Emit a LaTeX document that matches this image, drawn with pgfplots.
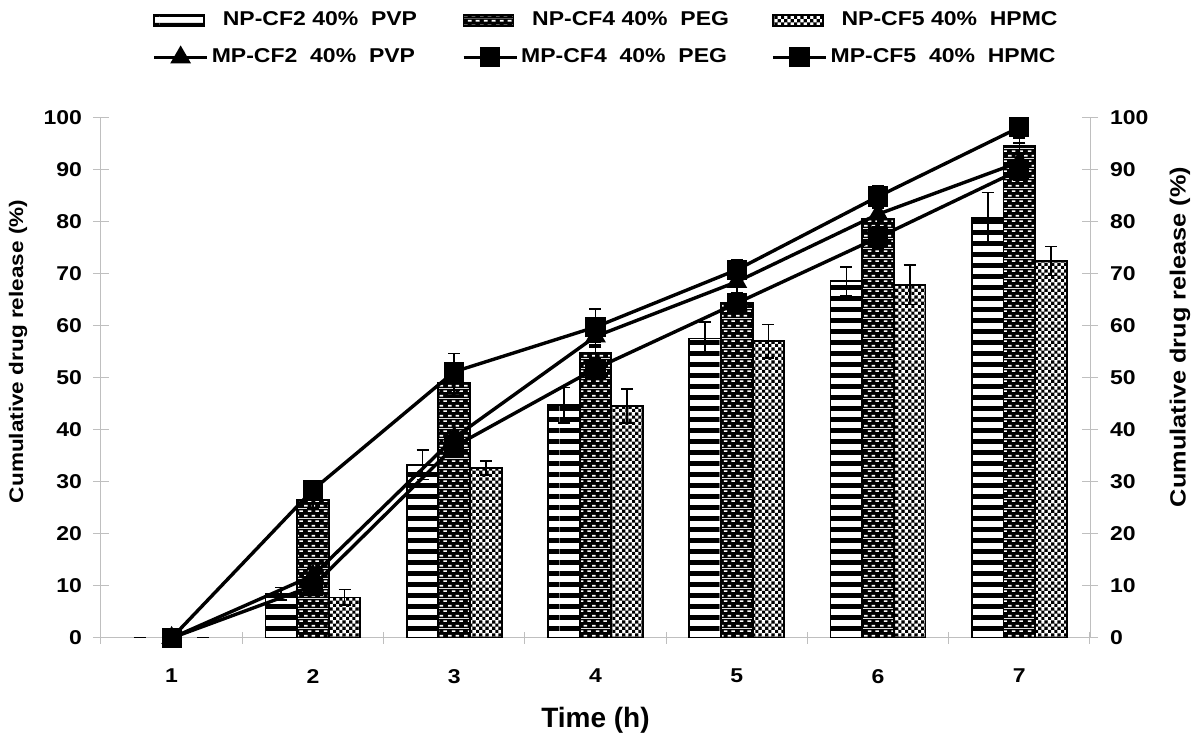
\documentclass[border=0pt]{standalone}
\usepackage{fontspec}
\setmainfont{Liberation Sans}[FakeStretch=1.15]
\newfontfamily\xlfont{Liberation Sans}
\usepackage{pgfplots}
\usepackage{pgfplotstable}
\pgfplotsset{compat=1.18}
\usetikzlibrary{patterns}

\pgfdeclarepatterninherentlycolored{myhstripes}
{\pgfpointorigin}{\pgfqpoint{40pt}{5.3pt}}{\pgfqpoint{40pt}{5.3pt}}
{
 \pgfsetfillcolor{white}
 \pgfpathrectangle{\pgfpointorigin}{\pgfqpoint{40pt}{5.3pt}}
 \pgfusepath{fill}
 \pgfsetfillcolor{black}
 \pgfpathrectangle{\pgfpointorigin}{\pgfqpoint{40pt}{2.5pt}}
 \pgfusepath{fill}
}
\pgfdeclarepatterninherentlycolored{mybricks}
{\pgfpointorigin}{\pgfqpoint{8pt}{5pt}}{\pgfqpoint{8pt}{5pt}}
{
 \pgfsetfillcolor{black}
 \pgfpathrectangle{\pgfpointorigin}{\pgfqpoint{8pt}{5pt}}
 \pgfusepath{fill}
 \pgfsetfillcolor{white}
 \pgfpathrectangle{\pgfqpoint{0.05pt}{0.8pt}}{\pgfqpoint{1.9pt}{0.95pt}}
 \pgfpathrectangle{\pgfqpoint{4.05pt}{0.8pt}}{\pgfqpoint{1.9pt}{0.95pt}}
 \pgfpathrectangle{\pgfqpoint{2.05pt}{3.3pt}}{\pgfqpoint{1.9pt}{0.95pt}}
 \pgfpathrectangle{\pgfqpoint{6.05pt}{3.3pt}}{\pgfqpoint{1.9pt}{0.95pt}}
 \pgfusepath{fill}
}
\pgfdeclarepatterninherentlycolored{mychecker}
{\pgfpointorigin}{\pgfqpoint{6.4pt}{6.4pt}}{\pgfqpoint{6.4pt}{6.4pt}}
{
 \pgfsetfillcolor{white}
 \pgfpathrectangle{\pgfpointorigin}{\pgfqpoint{6.4pt}{6.4pt}}
 \pgfusepath{fill}
 \pgfsetfillcolor{black}
 \pgfpathrectangle{\pgfqpoint{0pt}{0pt}}{\pgfqpoint{1.6pt}{1.6pt}}
 \pgfpathrectangle{\pgfqpoint{3.2pt}{0pt}}{\pgfqpoint{1.6pt}{1.6pt}}
 \pgfpathrectangle{\pgfqpoint{1.6pt}{1.6pt}}{\pgfqpoint{1.6pt}{1.6pt}}
 \pgfpathrectangle{\pgfqpoint{4.8pt}{1.6pt}}{\pgfqpoint{1.6pt}{1.6pt}}
 \pgfpathrectangle{\pgfqpoint{0pt}{3.2pt}}{\pgfqpoint{1.6pt}{1.6pt}}
 \pgfpathrectangle{\pgfqpoint{3.2pt}{3.2pt}}{\pgfqpoint{1.6pt}{1.6pt}}
 \pgfpathrectangle{\pgfqpoint{1.6pt}{4.8pt}}{\pgfqpoint{1.6pt}{1.6pt}}
 \pgfpathrectangle{\pgfqpoint{4.8pt}{4.8pt}}{\pgfqpoint{1.6pt}{1.6pt}}
 \pgfusepath{fill}
}

\pgfplotstableread{
t  a    ea   b    eb   c    ec   d    ed   e    ee   f    ef
1  0    0    0    0    0    0    0    0    0    0    0    0
2  8.5  1.2  26.5 1.5  7.8  1.5  12   1.5  28.5 1.5  10   1.5
3  33.3 2.8  49   2.5  32.7 1.3  38.5 2    51.2 3.5  36.8 2
4  44.8 3.4  54.8 2    44.6 3.3  58   2    59.8 3.5  51.8 2
5  57.6 3.2  64.4 2    57.1 3.2  68.5 3    70.8 2    64.4 2
6  68.6 2.8  80.6 2    67.9 3.8  81.5 3    84.9 2    77   2
7  80.8 4.9  94.6 1.5  72.5 2.8  91.5 3    98.2 3    90   2
}\data

\pgfplotsset{
  barstyle/.style={ybar, bar width=0.224, draw=black, line width=0.9pt,
    restrict x to domain=1.5:7.5,
    legend image code/.code={\draw[line width=0.8pt,##1] (0pt,-2.8pt) rectangle (25pt,2.8pt);}},
  errstyle/.style={draw=none, mark=none, forget plot,
    error bars/y dir=both, error bars/y explicit,
    error bars/error bar style={draw=black, solid, line width=0.8pt},
    error bars/error mark options={rotate=90, draw=black, solid, mark size=3pt, line width=0.8pt}},
  linestyle/.style={black, line width=1.7pt, mark options={solid, fill=black},
    error bars/y dir=both, error bars/y explicit,
    error bars/error bar style={black, line width=0.8pt},
    error bars/error mark options={rotate=90, black, mark size=3pt, line width=0.8pt},
    legend image code/.code={\draw[##1, mark repeat=2, mark phase=2] plot coordinates {(0pt,0pt) (13.25pt,0pt) (26.5pt,0pt)};}},
}

\begin{document}
\begin{tikzpicture}
\useasboundingbox (-50.5pt,-55pt) rectangle (549.5pt,319pt);
\begin{axis}[
  at={(0,0)}, anchor=south west,
  scale only axis, width=494.5pt, height=260pt,
  xmin=0.5, xmax=7.5, ymin=0, ymax=100,
  axis x line*=bottom, axis y line*=left,
  axis line style={gray!50, line width=0.5pt},
  xtick={1,...,7}, minor xtick={0.5,1.5,...,7.5},
  major x tick style={draw=none},
  minor x tick style={gray!50, line width=0.5pt},
  ytick={0,10,...,100},
  major y tick style={gray!50, line width=0.5pt},
  tick align=center, major tick length=8pt, minor tick length=6pt,
  /pgf/number format/assume math mode=true,
  ticklabel style={font=\bfseries\fontsize{10}{12}\selectfont},
  xticklabel style={yshift=-8pt},
  yticklabel style={xshift=-2pt},
  xlabel={Time (h)},
  xlabel style={at={(axis description cs:0.5,0)}, anchor=center, yshift=-41pt, font=\xlfont\bfseries\fontsize{14}{16}\selectfont},
  ylabel={Cumulative drug release (\%)},
  ylabel style={at={(axis description cs:-0.0839,0.551)}, anchor=center, rotate=0, font=\bfseries\fontsize{9.8}{12}\selectfont},
  legend columns=3,
  legend cell align=left,
  legend style={draw=none, fill=none, inner sep=0pt, at={(axis description cs:0.0516,1)}, anchor=north west, yshift=53.75pt,
    row sep=9pt, column sep=0pt,
    nodes={inner sep=0pt, text height=7.5pt, text depth=2pt, font=\bfseries\fontsize{10}{12}\selectfont}},
]
\addplot[barstyle, bar shift=-0.224, pattern=myhstripes] table[x=t, y=a]{\data};
\addlegendentry{\makebox[126.5pt][l]{\hspace{7pt}NP-CF2 40\%\ \ PVP}}
\addplot[barstyle, bar shift=0, pattern=mybricks] table[x=t, y=b]{\data};
\addlegendentry{\makebox[126.5pt][l]{\hspace{7pt}NP-CF4 40\%\ \ PEG}}
\addplot[barstyle, bar shift=0.224, pattern=mychecker] table[x=t, y=c]{\data};
\addlegendentry{\makebox[126.5pt][l]{\hspace{7pt}NP-CF5 40\%\ \ HPMC}}
\addplot[errstyle] table[x expr=\thisrow{t}-0.224, y=a, y error=ea]{\data};
\addplot[errstyle] table[x=t, y=b, y error=eb]{\data};
\addplot[errstyle] table[x expr=\thisrow{t}+0.224, y=c, y error=ec]{\data};
\addplot[linestyle, mark=triangle*, mark size=4.3pt] table[x=t, y=d, y error=ed]{\data};
\addlegendentry{\makebox[126.5pt][l]{\hspace{1.5pt}MP-CF2\ \ 40\%\ \ PVP}}
\addplot[linestyle, mark=square*, mark size=4.2pt] table[x=t, y=e, y error=ee]{\data};
\addlegendentry{\makebox[126.5pt][l]{\hspace{1.5pt}MP-CF4\ \ 40\%\ \ PEG}}
\addplot[linestyle, mark=square*, mark size=4.2pt] table[x=t, y=f, y error=ef]{\data};
\addlegendentry{\makebox[126.5pt][l]{\hspace{1.5pt}MP-CF5\ \ 40\%\ \ HPMC}}
\end{axis}
\begin{axis}[
  at={(0,0)}, anchor=south west,
  scale only axis, width=494.5pt, height=260pt,
  xmin=0.5, xmax=7.5, ymin=0, ymax=100,
  axis x line=none, axis y line*=right,
  axis line style={gray!50, line width=0.5pt},
  ytick={0,10,...,100},
  major y tick style={gray!50, line width=0.5pt},
  tick align=center, major tick length=8pt,
  /pgf/number format/assume math mode=true,
  ticklabel style={font=\bfseries\fontsize{10}{12}\selectfont},
  yticklabel style={xshift=2.5pt},
  ylabel={Cumulative drug release (\%)},
  ylabel style={at={(axis description cs:1.091,0.579)}, anchor=center, rotate=0, font=\bfseries\fontsize{11}{13}\selectfont},
]
\addplot[draw=none] coordinates {(1,0)};
\end{axis}
\end{tikzpicture}
\end{document}
